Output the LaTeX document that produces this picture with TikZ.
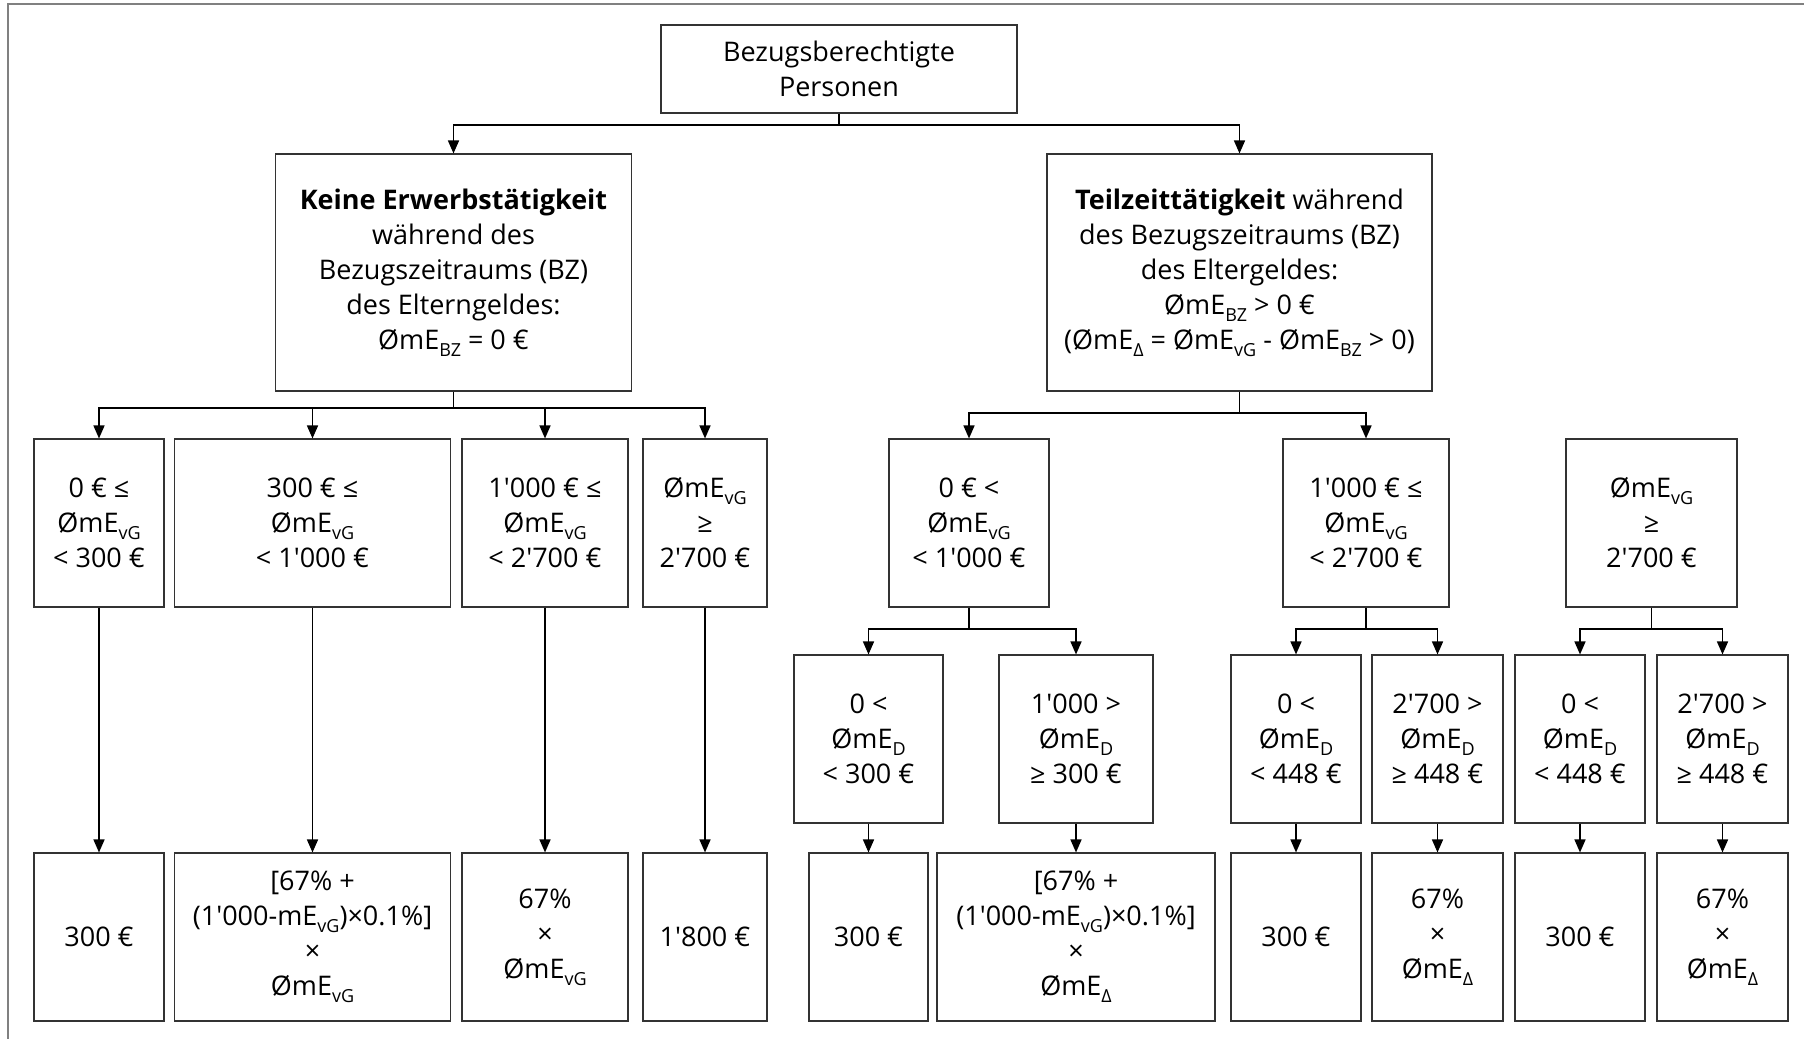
\documentclass[tikz,border=0pt]{standalone}
\usepackage{fontspec}
\newfontfamily\chartfont{Open Sans}
\usetikzlibrary{arrows.meta,positioning}
\newcommand{\sub}[1]{\raisebox{-7pt}{\fontsize{18}{18}\selectfont #1}}
\newcommand{\dmE}[1]{ØmE\sub{#1}}
\tikzset{
  cell/.style n args={2}{
    draw=black!80, line width=1.1pt,
    minimum width=#1pt, minimum height=#2pt,
    inner sep=0pt, align=center,
    font=\chartfont\fontsize{27}{35}\selectfont
  },
  tree line/.style={draw=black, line width=1.5pt},
  tree arrow/.style={tree line, -{Triangle[length=13pt,width=11pt]}}
}
\begin{document}
\begin{tikzpicture}[x=1pt,y=-1pt]
    \useasboundingbox (0,0) rectangle (1804,1039);
    \draw[black!50, line width=2pt] (1804,4) -- (8,4) -- (8,1039);
    % top levels
    \node[cell={356}{88}] (root) at (839,69) {Bezugsberechtigte\\Personen};
    \node[cell={356}{237}] (none) at (453.5,272.5) {\textbf{Keine Erwerbstätigkeit}\\während des\\Bezugszeitraums (BZ)\\des Elterngeldes:\\\dmE{BZ} = 0 €};
    \node[cell={385}{237}] (part) at (1239.5,272.5) {\textbf{Teilzeittätigkeit} während\\des Bezugszeitraums (BZ)\\des Eltergeldes:\\\dmE{BZ} > 0 €\\(\dmE{Δ} = \dmE{vG} - \dmE{BZ} > 0)};
    % income ranges, no employment
    \node[cell={130}{168}] (n1) at (99,523) {0 € ≤\\\dmE{vG}\\< 300 €};
    \node[cell={276}{168}] (n2) at (312.5,523) {300 € ≤\\\dmE{vG}\\< 1'000 €};
    \node[cell={166}{168}] (n3) at (545,523) {1'000 € ≤\\\dmE{vG}\\< 2'700 €};
    \node[cell={124}{168}] (n4) at (705,523) {\dmE{vG}\\≥\\2'700 €};
    % income ranges, part time
    \node[cell={160}{168}] (p1) at (969,523) {0 € <\\\dmE{vG}\\< 1'000 €};
    \node[cell={166}{168}] (p2) at (1366,523) {1'000 € ≤\\\dmE{vG}\\< 2'700 €};
    \node[cell={171}{168}] (p3) at (1651.5,523) {\dmE{vG}\\≥\\2'700 €};
    % difference ranges
    \node[cell={149}{168}] (q1) at (868.5,739) {0 <\\\dmE{D}\\< 300 €};
    \node[cell={154}{168}] (q2) at (1076,739) {1'000 >\\\dmE{D}\\≥ 300 €};
    \node[cell={130}{168}] (q3) at (1296,739) {0 <\\\dmE{D}\\< 448 €};
    \node[cell={131}{168}] (q4) at (1437.5,739) {2'700 >\\\dmE{D}\\≥ 448 €};
    \node[cell={130}{168}] (q5) at (1580,739) {0 <\\\dmE{D}\\< 448 €};
    \node[cell={131}{168}] (q6) at (1722.5,739) {2'700 >\\\dmE{D}\\≥ 448 €};
    % resulting amounts
    \node[cell={130}{168}] (r1) at (99,937) {300 €};
    \node[cell={276}{168}] (r2) at (312.5,937) {[67\% +\\(1'000-mE\sub{vG})×0.1\%]\\×\\\dmE{vG}};
    \node[cell={166}{168}] (r3) at (545,937) {67\%\\×\\\dmE{vG}};
    \node[cell={124}{168}] (r4) at (705,937) {1'800 €};
    \node[cell={119}{168}] (s1) at (868.5,937) {300 €};
    \node[cell={278}{168}] (s2) at (1076,937) {[67\% +\\(1'000-mE\sub{vG})×0.1\%]\\×\\\dmE{Δ}};
    \node[cell={130}{168}] (s3) at (1296,937) {300 €};
    \node[cell={131}{168}] (s4) at (1437.5,937) {67\%\\×\\\dmE{Δ}};
    \node[cell={130}{168}] (s5) at (1580,937) {300 €};
    \node[cell={131}{168}] (s6) at (1722.5,937) {67\%\\×\\\dmE{Δ}};
    % forks
    \coordinate (rootfork) at (839,125);
    \coordinate (nonefork) at (453.5,408);
    \coordinate (partfork) at (1239.5,413);
    \coordinate (p1fork) at (969,629);
    \coordinate (p2fork) at (1366,629);
    \coordinate (p3fork) at (1651.5,629);
    \foreach \from/\to in {root/rootfork,none/nonefork,part/partfork,p1/p1fork,p2/p2fork,p3/p3fork}
        \draw[tree line] (\from) -- (\to);
    \foreach \from/\to in {rootfork/none,rootfork/part,nonefork/n1,nonefork/n2,nonefork/n3,nonefork/n4,partfork/p1,partfork/p2,p1fork/q1,p1fork/q2,p2fork/q3,p2fork/q4,p3fork/q5,p3fork/q6}
        \draw[tree arrow] (\from) -| (\to);
    \foreach \from/\to in {n1/r1,n2/r2,n3/r3,n4/r4,q1/s1,q2/s2,q3/s3,q4/s4,q5/s5,q6/s6}
        \draw[tree arrow] (\from) -- (\to);
\end{tikzpicture}
\end{document}
